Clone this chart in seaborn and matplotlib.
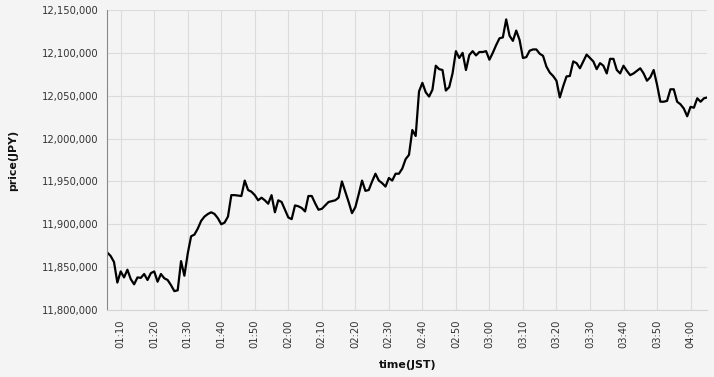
import matplotlib
matplotlib.use("Agg")
import matplotlib.pyplot as plt
import matplotlib.dates as mdates
import matplotlib.ticker as mticker
import pandas as pd
import seaborn as sns

# ---- data (1-minute closes, JST) ----
start_time = "2024-01-01 01:06"
prices_0106 = [11867000, 11863000, 11856000, 11832000, 11845000, 11838000, 11847000, 11836000, 11830000, 11838000,
               11837500, 11842000, 11835000, 11843000, 11845000, 11833000, 11842000, 11837000, 11835000, 11829000,
               11822000, 11823000, 11857000, 11840000, 11866000, 11886000, 11888000, 11895000, 11904000, 11909000]
prices_0136 = [11912000, 11914000, 11912000, 11907000, 11900000, 11902000, 11909000, 11934000, 11934000, 11933500,
               11933000, 11951000, 11940000, 11938000, 11934000, 11928000, 11931000, 11928000, 11924000, 11934000,
               11914000, 11928000, 11926000, 11917000, 11908000, 11906000, 11922000, 11921000, 11919000, 11915000]
prices_0206 = [11933000, 11933000, 11924500, 11917000, 11918000, 11922000, 11926000, 11927000, 11928000, 11931000,
               11950000, 11938000, 11926000, 11913000, 11920000, 11935000, 11951000, 11939000, 11940000, 11950000,
               11959000, 11951000, 11948000, 11944000, 11954000, 11951000, 11959000, 11959000, 11965000, 11976000]
prices_0236 = [11981000, 12010000, 12003000, 12055000, 12065000, 12054000, 12049000, 12057000, 12085000, 12081000,
               12080000, 12056000, 12060000, 12076000, 12102000, 12094000, 12100000, 12080000, 12097500, 12102000,
               12097000, 12101000, 12101000, 12102000, 12092000, 12100000, 12109000, 12117000, 12118000, 12139000]
prices_0306 = [12120000, 12114000, 12126000, 12115000, 12094000, 12095000, 12102500, 12104000, 12104000, 12099000,
               12096500, 12084000, 12077000, 12073000, 12067500, 12048000, 12061000, 12072500, 12073000, 12090000,
               12088000, 12082000, 12090000, 12098000, 12094000, 12090000, 12081000, 12088000, 12085000, 12076000]
prices_0336 = [12093000, 12093000, 12080000, 12076000, 12085000, 12079000, 12074000, 12076000, 12079000, 12082000,
               12076000, 12067500, 12071500, 12080000, 12063000, 12043000, 12043000, 12044000, 12057500, 12057500,
               12043000, 12040000, 12035000, 12026000, 12037000, 12036000, 12047000, 12043000, 12047000, 12048000]

y_min, y_max = 11800000, 12150000
x_label = "time(JST)"
y_label = "price(JPY)"

prices = prices_0106 + prices_0136 + prices_0206 + prices_0236 + prices_0306 + prices_0336
times = pd.date_range(start_time, periods=len(prices), freq="min")
df = pd.DataFrame({"time": times, "price": prices})

bg = "#f4f4f4"
sns.set_style("whitegrid", rc={
    "axes.facecolor": bg,
    "figure.facecolor": bg,
    "grid.color": "#dcdcdc",
    "grid.linewidth": 0.8,
})
plt.rcParams["font.family"] = ["DejaVu Sans"]

fig = plt.figure(figsize=(7.14, 3.77), dpi=100, facecolor=bg)
ax = fig.add_axes([107.3 / 714, 1 - 310 / 377, 600 / 714, 300 / 377])
ax.set_facecolor(bg)

sns.lineplot(data=df, x="time", y="price", color="black", linewidth=1.6, ax=ax)

ax.set_xlim(times[0], times[-1])
ax.set_ylim(y_min, y_max)
ax.yaxis.set_major_locator(mticker.MultipleLocator(50000))
ax.yaxis.set_major_formatter(mticker.StrMethodFormatter("{x:,.0f}"))
ax.xaxis.set_major_locator(mdates.MinuteLocator(byminute=range(0, 60, 10)))
ax.xaxis.set_major_formatter(mdates.DateFormatter("%H:%M"))

ax.tick_params(axis="both", which="major", length=5, width=0.8, color="#888888",
               labelsize=7.2, labelcolor="#333333")
ax.tick_params(axis="x", pad=2.2, labelrotation=90)
ax.tick_params(axis="y", pad=1.5)

for s in ["top", "right"]:
    ax.spines[s].set_visible(False)
ax.spines["left"].set_color("#888888")
ax.spines["left"].set_linewidth(0.8)
ax.spines["bottom"].set_color("#d4d4d4")
ax.spines["bottom"].set_linewidth(0.8)

ax.set_xlabel(x_label, fontsize=7.9, fontweight="bold", color="#111111")
ax.set_ylabel(y_label, fontsize=7.9, fontweight="bold", color="#111111")
ax.xaxis.set_label_coords(0.5, -0.168)
ax.yaxis.set_label_coords(-0.149, 0.5)

fig.savefig("out.png", dpi=100, facecolor=bg)
